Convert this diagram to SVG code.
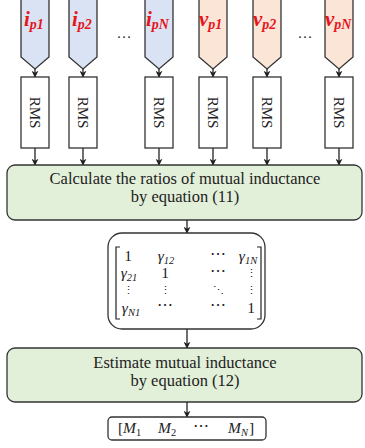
<svg xmlns="http://www.w3.org/2000/svg" width="365" height="448" viewBox="0 0 365 448">
<defs>
<style>
.in-i{fill:#dae3f3;stroke:#333;stroke-width:1.3}
.in-v{fill:#fbe5d6;stroke:#333;stroke-width:1.3}
.rms{fill:#fff;stroke:#333;stroke-width:1.3}
.proc{fill:#e2f0d9;stroke:#333;stroke-width:1.3}
.box{fill:#fff;stroke:#333;stroke-width:1.3}
.lbl{font-family:"Liberation Serif",serif;font-style:italic;font-weight:bold;fill:#e8141c;font-size:21px}
.sub{font-size:14px}
.t{font-family:"Liberation Serif",serif;font-size:16.5px;fill:#222}
.r{font-family:"Liberation Serif",serif;font-size:15px;fill:#222}
.m{font-family:"Liberation Serif",serif;font-size:15.5px;fill:#222}
.d{font-family:"DejaVu Serif",serif;font-size:11px;fill:#222}
.mi{font-style:italic}
.ms{font-size:10.5px}
.con{stroke:#222;stroke-width:1.3;fill:none;marker-end:url(#ah)}
.br{stroke:#222;stroke-width:1.2;fill:none}
</style>
<marker id="ah" viewBox="0 0 10 10" refX="9" refY="5" markerWidth="7" markerHeight="7" markerUnits="userSpaceOnUse" orient="auto">
<path d="M0,0 L10,5 L0,10 L3,5 Z" fill="#222"/>
</marker>
</defs>

<g id="connectors">
<line class="con" x1="35" y1="69" x2="35" y2="77"/>
<line class="con" x1="83" y1="69" x2="83" y2="77"/>
<line class="con" x1="159" y1="69" x2="159" y2="77"/>
<line class="con" x1="213" y1="69" x2="213" y2="77"/>
<line class="con" x1="267" y1="69" x2="267" y2="77"/>
<line class="con" x1="339" y1="69" x2="339" y2="77"/>
<line class="con" x1="35" y1="148" x2="35" y2="165"/>
<line class="con" x1="83" y1="148" x2="83" y2="165"/>
<line class="con" x1="159" y1="148" x2="159" y2="165"/>
<line class="con" x1="213" y1="148" x2="213" y2="165"/>
<line class="con" x1="267" y1="148" x2="267" y2="165"/>
<line class="con" x1="339" y1="148" x2="339" y2="165"/>
<line class="con" x1="187" y1="220" x2="187" y2="233"/>
<line class="con" x1="187" y1="329" x2="187" y2="348"/>
<line class="con" x1="187" y1="402" x2="187" y2="417"/>
</g>

<g id="in-ip1"><polygon class="in-i" points="21,-1 49,-1 49,57 35,69 21,57"/><text class="lbl" x="24" y="26">i<tspan class="sub" dy="3">p1</tspan></text></g>
<g id="in-ip2"><polygon class="in-i" points="69,-1 97,-1 97,57 83,69 69,57"/><text class="lbl" x="72" y="26">i<tspan class="sub" dy="3">p2</tspan></text></g>
<g id="in-ipN"><polygon class="in-i" points="145,-1 173,-1 173,57 159,69 145,57"/><text class="lbl" x="146" y="26">i<tspan class="sub" dy="3">pN</tspan></text></g>
<g id="in-vp1"><polygon class="in-v" points="199,-1 227,-1 227,57 213,69 199,57"/><text class="lbl" x="199" y="26">v<tspan class="sub" dy="3">p1</tspan></text></g>
<g id="in-vp2"><polygon class="in-v" points="253,-1 281,-1 281,57 267,69 253,57"/><text class="lbl" x="253" y="26">v<tspan class="sub" dy="3">p2</tspan></text></g>
<g id="in-vpN"><polygon class="in-v" points="325,-1 353,-1 353,57 339,69 325,57"/><text class="lbl" x="325" y="26">v<tspan class="sub" dy="3">pN</tspan></text></g>

<text class="r" x="124" y="42" text-anchor="middle">···</text>
<text class="r" x="305" y="42" text-anchor="middle">···</text>

<g id="rms1"><rect class="rms" x="21" y="77" width="28" height="71"/><text class="r" transform="translate(30,112.5) rotate(90)" text-anchor="middle">RMS</text></g>
<g id="rms2"><rect class="rms" x="69" y="77" width="28" height="71"/><text class="r" transform="translate(78,112.5) rotate(90)" text-anchor="middle">RMS</text></g>
<g id="rms3"><rect class="rms" x="145" y="77" width="28" height="71"/><text class="r" transform="translate(154,112.5) rotate(90)" text-anchor="middle">RMS</text></g>
<g id="rms4"><rect class="rms" x="199" y="77" width="28" height="71"/><text class="r" transform="translate(208,112.5) rotate(90)" text-anchor="middle">RMS</text></g>
<g id="rms5"><rect class="rms" x="253" y="77" width="28" height="71"/><text class="r" transform="translate(262,112.5) rotate(90)" text-anchor="middle">RMS</text></g>
<g id="rms6"><rect class="rms" x="325" y="77" width="28" height="71"/><text class="r" transform="translate(334,112.5) rotate(90)" text-anchor="middle">RMS</text></g>

<g id="calc-ratios"><rect class="proc" x="7" y="165" width="355" height="55" rx="8"/>
<text class="t" x="185" y="184" text-anchor="middle">Calculate the ratios of mutual inductance</text>
<text class="t" x="185" y="202" text-anchor="middle">by equation (11)</text></g>

<g id="matrix"><rect class="box" x="108" y="233" width="157" height="96" rx="14"/>
<path class="br" d="M120,247 H116 V319 H120"/>
<path class="br" d="M257,247 H261 V319 H257"/>
<g class="m" text-anchor="middle">
<text x="128" y="261">1</text>
<text x="166" y="261" class="mi">γ<tspan class="ms" dy="3">12</tspan></text>
<text x="218" y="259">⋯</text>
<text x="248" y="261" class="mi">γ<tspan class="ms" dy="3">1N</tspan></text>
<text x="129" y="278" class="mi">γ<tspan class="ms" dy="3">21</tspan></text>
<text x="165" y="278">1</text>
<text x="218" y="276">⋯</text>
<text x="218" y="310">⋯</text>
<text x="165" y="310">⋯</text>
<text x="131" y="313" class="mi">γ<tspan class="ms" dy="3">N1</tspan></text>
<text x="251" y="313">1</text>
</g>
<g class="d" text-anchor="middle">
<text x="251" y="277">⋮</text>
<text x="128" y="294">⋮</text>
<text x="165" y="294">⋮</text>
<text x="218" y="294">⋱</text>
<text x="251" y="294">⋮</text>
</g></g>

<g id="estimate"><rect class="proc" x="7" y="348" width="355" height="54" rx="8"/>
<text class="t" x="185" y="368" text-anchor="middle">Estimate mutual inductance</text>
<text class="t" x="185" y="386" text-anchor="middle">by equation (12)</text></g>

<g id="output"><rect class="box" x="108" y="417" width="158" height="23" rx="4"/>
<g class="m">
<text x="118" y="433">[</text>
<text x="123" y="433" class="mi">M<tspan class="ms" dy="3" font-style="normal">1</tspan></text>
<text x="158" y="433" class="mi">M<tspan class="ms" dy="3" font-style="normal">2</tspan></text>
<text x="201" y="431" text-anchor="middle">⋯</text>
<text x="228" y="433" class="mi">M<tspan class="ms" dy="3">N</tspan></text>
<text x="249" y="433">]</text>
</g></g>
</svg>
